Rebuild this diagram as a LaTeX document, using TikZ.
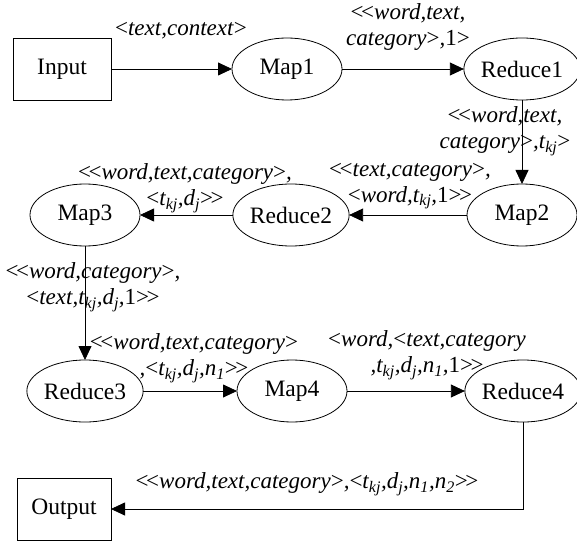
\documentclass[tikz,border=0pt]{standalone}
\usepackage{fontspec}
% keep "<<" and ">>" as two separate brackets
\setmainfont{Liberation Serif}[Ligatures=TeXOff]
\usetikzlibrary{arrows.meta,shapes.geometric}
% italic subscript for the tuple labels
\newcommand{\isub}[1]{\textsubscript{\itshape #1}}
% upright angle brackets and digits inside the italic tuples
\newcommand{\lt}{\textup{<}}
\newcommand{\gt}{\textup{>}}
\newcommand{\dlt}{\textup{<\kern-2.5pt<}}
\newcommand{\dgt}{\textup{>\kern-2.5pt>}}
\newcommand{\one}{\textup{1}}
\begin{document}
\begin{tikzpicture}[x=1pt,y=-1pt,
  every node/.style={inner sep=0pt, outer sep=0pt},
  boxnode/.style={draw, line width=0.8pt, minimum width=96pt, minimum height=62pt,
    font=\fontsize{23.5}{27}\selectfont},
  ovalnode/.style={draw, ellipse, line width=0.8pt, minimum width=110pt, minimum height=62pt,
    font=\fontsize{23.5}{27}\selectfont},
  tuple/.style={align=center, font=\fontsize{23}{26}\selectfont\itshape},
  flow/.style={line width=0.8pt, -{Triangle[length=14pt,width=13pt]}}
]
\useasboundingbox (0,0) rectangle (577,545);

% processing stages
\node[boxnode, minimum width=98pt] (input) at (62,69) {Input};
\node[ovalnode] (map1) at (287,69) {Map1};
\node[ovalnode] (red1) at (522,69) {Reduce1};
\node[ovalnode] (map2) at (522,215) {Map2};
\node[ovalnode] (red2) at (291,215) {Reduce2};
\node[ovalnode] (map3) at (85,215) {Map3};
\node[ovalnode] (red3) at (85,391) {Reduce3};
\node[ovalnode] (map4) at (292,391) {Map4};
\node[ovalnode] (red4) at (523,391) {Reduce4};
\node[boxnode, minimum width=94pt] (output) at (64,509) {Output};
\coordinate (turn) at (red4.south |- output.east);

% data flow between stages
\draw[flow] (input) -- (map1);
\draw[flow] (map1) -- (red1);
\draw[flow] (red1) -- (map2);
\draw[flow] (map2) -- (red2);
\draw[flow] (red2) -- (map3);
\draw[flow] (map3) -- (red3);
\draw[flow] (red3) -- (map4);
\draw[flow] (map4) -- (red4);
\draw[flow] (red4.south) -- (turn) -- (output.east);

% key/value pairs carried by each flow
\node[tuple] (t1) at (181,31) {\lt text,context\gt};
\node[tuple] (t2) at (408,27) {\dlt word,text,\\category\gt,\one\gt};
\node[tuple] (t3) at (505,131) {\dlt word,text,\\category\gt,t\isub{kj}\gt};
\node[tuple] (t4) at (410,186) {\dlt text,category\gt,\\\lt word,t\isub{kj},\one\dgt};
\node[tuple] (t5) at (185,188) {\dlt word,text,category\gt,\\\lt t\isub{kj},d\isub{j}\dgt};
\node[tuple] (t6) at (93,287) {\dlt word,category\gt,\\\lt text,t\isub{kj},d\isub{j},\one\dgt};
\node[tuple] (t7) at (194,358) {\dlt word,text,category\gt\\,\lt t\isub{kj},d\isub{j},n\isub{1}\dgt};
\node[tuple] (t8) at (427,355) {\lt word,\lt text,category\\,t\isub{kj},d\isub{j},n\isub{1},\one\dgt};
\node[tuple] (t9) at (307,484) {\dlt word,text,category\gt,\lt t\isub{kj},d\isub{j},n\isub{1},n\isub{2}\dgt};
\end{tikzpicture}
\end{document}
